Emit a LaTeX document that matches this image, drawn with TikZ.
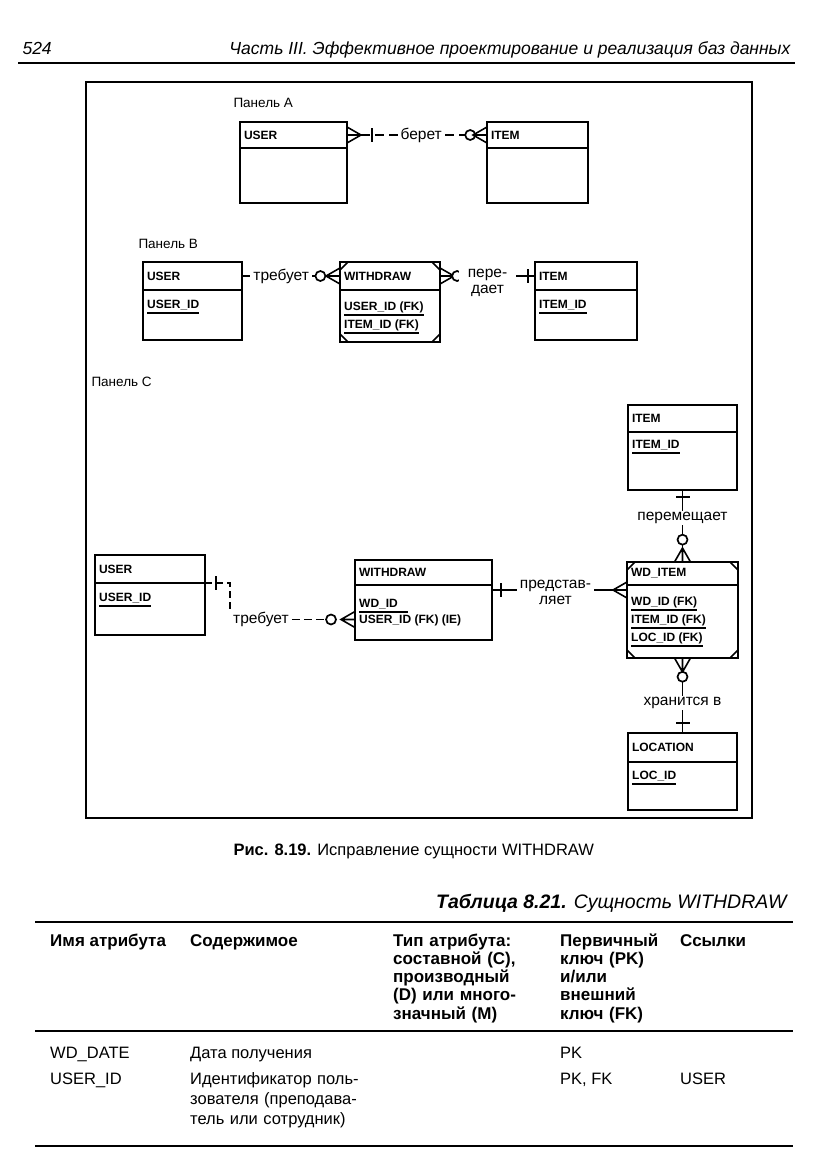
\documentclass[tikz,border=0pt]{standalone}
\usepackage{fontspec}
\setmainfont{Liberation Sans}
\usetikzlibrary{positioning}

\newcommand{\entfont}{\fontsize{12}{13}\selectfont\bfseries}
\newcommand{\relfont}{\fontsize{15.5}{16}\selectfont}
\newcommand{\cellfont}{\fontsize{16.5}{20}\selectfont}
\newcommand{\headfont}{\fontsize{17}{18.3}\selectfont\bfseries}

\begin{document}
\begin{tikzpicture}[
    x=1pt, y=-1pt,
    allow upside down,
    enthead/.style={draw, line width=2.2pt, outer sep=0pt, anchor=north west, text width=#1, inner xsep=4pt, inner ysep=0pt, align=left, font=\entfont},
    entbody/.style={draw, line width=2.2pt, outer sep=0pt, minimum width=#1, inner sep=0pt},
    attr/.style={inner sep=0pt, text height=8.5pt, text depth=4pt, font=\entfont},
    keyline/.style={line width=1.6pt},
    relline/.style={line width=1.6pt},
    rellabel/.style={fill=white, inner xsep=3pt, inner ysep=1pt, align=center, font=\relfont},
    zero/.style={circle, draw, solid, line width=1.7pt, fill=white, minimum size=10pt, inner sep=0pt},
    crowin/.pic={\draw[relline, solid] (0,-8) -- (-14,0) -- (0,8) (0,0) -- (-14,0);},
    crowout/.pic={\draw[relline, solid] (0,-8) -- (14,0) -- (0,8) (0,0) -- (14,0);},
    onebar/.pic={\draw[line width=2pt, solid] (0,-7) -- (0,7);},
    panel/.style={anchor=base west, font=\fontsize{13.5}{15}\selectfont},
    cell/.style={anchor=base west, inner sep=0pt, align=left, font=\cellfont},
    hcell/.style={anchor=base west, inner sep=0pt, align=left, font=\headfont},
    rule/.style={line width=1.8pt}
]
\path[use as bounding box, fill=white] (0,0) rectangle (831,1175);

\node[anchor=base west, font=\fontsize{17.5}{20}\selectfont\itshape] (pagenum) at (19,54) {524};
\node[anchor=base east, font=\fontsize{17.5}{20}\selectfont\itshape] (runhead) at (794,54) {Часть III. Эффективное проектирование и реализация баз данных};
\draw[rule] (18,63) -- (795,63);

\draw[line width=1.3pt] (86,82) rectangle (752,818);

\node[panel] (panA) at (230,107) {Панель А};
\node[enthead=99pt, minimum height=26pt] (userAhead) at (240,122) {USER};
\node[entbody=107pt, minimum height=55pt, below=0pt of userAhead] (userAbody) {};
\node[enthead=93pt, minimum height=26pt] (itemAhead) at (487,122) {ITEM};
\node[entbody=101pt, minimum height=55pt, below=0pt of itemAhead] (itemAbody) {};
\draw[relline, dash pattern=on 9pt off 5pt] (userAhead.east) -- pic[pos=0, sloped]{crowout} pic[pos=0.18, sloped]{onebar} node[rellabel, pos=0.53]{берет} node[zero, pos=0.88]{} pic[pos=1, sloped]{crowin} (itemAhead.west);

\node[panel] (panB) at (135,248) {Панель В};
\node[enthead=91pt, minimum height=28pt] (userBhead) at (143,262) {USER};
\node[entbody=99pt, minimum height=50pt, below=0pt of userBhead] (userBbody) {};
\node[attr, below right=10pt and 4pt of userBbody.north west] (userBid) {USER\_ID};
\draw[keyline] (userBid.south west) -- (userBid.south east);

\node[enthead=92pt, minimum height=28pt] (wdBhead) at (340,262) {WITHDRAW};
\node[entbody=100pt, minimum height=52pt, below=0pt of wdBhead] (wdBbody) {};
\node[attr, below right=12pt and 4pt of wdBbody.north west] (wdBuser) {USER\_ID (FK)};
\node[attr, below right=5pt and 0pt of wdBuser.south west] (wdBitem) {ITEM\_ID (FK)};
\draw[keyline] (wdBuser.south west) -- (wdBuser.south east);
\draw[keyline] (wdBitem.south west) -- (wdBitem.south east);

\node[enthead=94pt, minimum height=28pt] (itemBhead) at (535,262) {ITEM};
\node[entbody=102pt, minimum height=50pt, below=0pt of itemBhead] (itemBbody) {};
\node[attr, below right=10pt and 4pt of itemBbody.north west] (itemBid) {ITEM\_ID};
\draw[keyline] (itemBid.south west) -- (itemBid.south east);

\draw[relline] (userBhead.east) -- pic[pos=0.11, sloped]{onebar} node[rellabel, pos=0.4]{требует} node[zero, pos=0.8]{} pic[pos=1, sloped]{crowin} (wdBhead.west);
\draw[relline] (wdBhead.east) -- pic[pos=0, sloped]{crowout} node[zero, pos=0.18]{} node[rellabel, inner xsep=9pt, pos=0.5, yshift=-7pt]{пере-\\дает} pic[pos=0.93, sloped]{onebar} (itemBhead.west);

\node[panel] (panC) at (88,386) {Панель С};
\node[enthead=101pt, minimum height=27pt] (itemChead) at (628,405) {ITEM};
\node[entbody=109pt, minimum height=58pt, below=0pt of itemChead] (itemCbody) {};
\node[attr, below right=8pt and 4pt of itemCbody.north west] (itemCid) {ITEM\_ID};
\draw[keyline] (itemCid.south west) -- (itemCid.south east);

\node[enthead=102pt, minimum height=28pt] (userChead) at (95,555) {USER};
\node[entbody=110pt, minimum height=52pt, below=0pt of userChead] (userCbody) {};
\node[attr, below right=10pt and 4pt of userCbody.north west] (userCid) {USER\_ID};
\draw[keyline] (userCid.south west) -- (userCid.south east);

\node[enthead=129pt, minimum height=25pt] (wdChead) at (355,560) {WITHDRAW};
\node[entbody=137pt, minimum height=55pt, below=0pt of wdChead] (wdCbody) {};
\node[attr, below right=14pt and 4pt of wdCbody.north west] (wdCid) {WD\_ID};
\node[attr, below right=3pt and 0pt of wdCid.south west] (wdCuser) {USER\_ID (FK) (IE)};
\draw[keyline] (wdCid.south west) -- ([xshift=10pt]wdCid.south east);

\node[enthead=103pt, minimum height=23pt] (wditemhead) at (627,562) {WD\_ITEM};
\node[entbody=111pt, minimum height=73pt, below=0pt of wditemhead] (wditembody) {};
\node[attr, below right=12pt and 4pt of wditembody.north west] (wditemwd) {WD\_ID (FK)};
\node[attr, below right=5pt and 0pt of wditemwd.south west] (wditemitem) {ITEM\_ID (FK)};
\node[attr, below right=5pt and 0pt of wditemitem.south west] (wditemloc) {LOC\_ID (FK)};
\draw[keyline] (wditemwd.south west) -- (wditemwd.south east);
\draw[keyline] (wditemitem.south west) -- (wditemitem.south east);
\draw[keyline] (wditemloc.south west) -- (wditemloc.south east);

\node[enthead=101pt, minimum height=29pt] (lochead) at (628,733) {LOCATION};
\node[entbody=109pt, minimum height=48pt, below=0pt of lochead] (locbody) {};
\node[attr, below right=9pt and 4pt of locbody.north west] (locid) {LOC\_ID};
\draw[keyline] (locid.south west) -- (locid.south east);

\foreach \c/\dx/\dy in {wdBhead.north west/1/-1, wdBhead.north east/-1/-1, wdBbody.south west/1/1, wdBbody.south east/-1/1, wditemhead.north west/1/-1, wditemhead.north east/-1/-1, wditembody.south west/1/1, wditembody.south east/-1/1}
  \draw[line width=1.6pt] ([xshift=\dx*8pt]\c) -- ([yshift=\dy*8pt]\c);

\draw[relline] (itemCbody.south) -- pic[pos=0.1, sloped]{onebar} node[rellabel, pos=0.39]{перемещает} node[zero, pos=0.69]{} pic[pos=1, sloped]{crowin} (wditemhead.north);

\node[rellabel, below right=28pt and 25pt of userChead.south east] (trebC) {требует};
\draw[relline, dash pattern=on 7pt off 4pt] (userChead.south east) -| pic[pos=0.22, sloped]{onebar} (trebC.north west);
\draw[relline, dash pattern=on 8pt off 4pt] (trebC.east) -- node[zero, pos=0.62]{} pic[pos=1, sloped]{crowin} (wdCbody.west |- trebC.east);

\draw[relline] ([yshift=-5pt]wdChead.south east) -- pic[pos=0.07, sloped]{onebar} node[rellabel, pos=0.47, yshift=-2pt]{представ-\\ляет} pic[pos=1, sloped]{crowin} ([yshift=-5pt]wditemhead.south west);

\draw[relline] (wditembody.south) -- pic[pos=0, sloped]{crowout} node[zero, pos=0.25]{} node[rellabel, pos=0.6]{хранится в} pic[pos=0.87, sloped]{onebar} (lochead.north);

\node[anchor=base west, font=\fontsize{16.5}{18}\selectfont] (caption) at (230,855) {\textbf{Рис. 8.19.} Исправление сущности WITHDRAW};

\node[anchor=base east, font=\fontsize{19.5}{21}\selectfont\itshape] (tabtitle) at (790,908) {\textbf{Таблица 8.21.} Сущность WITHDRAW};
\draw[rule] (35,922) -- (793,922);
\draw[rule] (35,1031) -- (793,1031);
\draw[rule] (35,1146) -- (793,1146);

\node[hcell] (hdname) at (50,946) {Имя атрибута};
\node[hcell] (hdcontent) at (190,946) {Содержимое};
\node[hcell, text width=150pt] (hdtype) at (393,946) {Тип атрибута:\\составной (C),\\производный\\(D) или много-\\значный (M)};
\node[hcell, text width=110pt] (hdkey) at (560,946) {Первичный\\ключ (PK)\\и/или\\внешний\\ключ (FK)};
\node[hcell] (hdref) at (680,946) {Ссылки};

\node[cell] (wddate) at (50,1058) {WD\_DATE};
\node[cell] (wddatedesc) at (190,1058) {Дата получения};
\node[cell] (wddatekey) at (560,1058) {PK};

\node[cell] (userid) at (50,1084) {USER\_ID};
\node[cell, text width=190pt] (useriddesc) at (190,1084) {Идентификатор поль-\\зователя (преподава-\\тель или сотрудник)};
\node[cell] (useridkey) at (560,1084) {PK, FK};
\node[cell] (useridref) at (680,1084) {USER};
\end{tikzpicture}
\end{document}
